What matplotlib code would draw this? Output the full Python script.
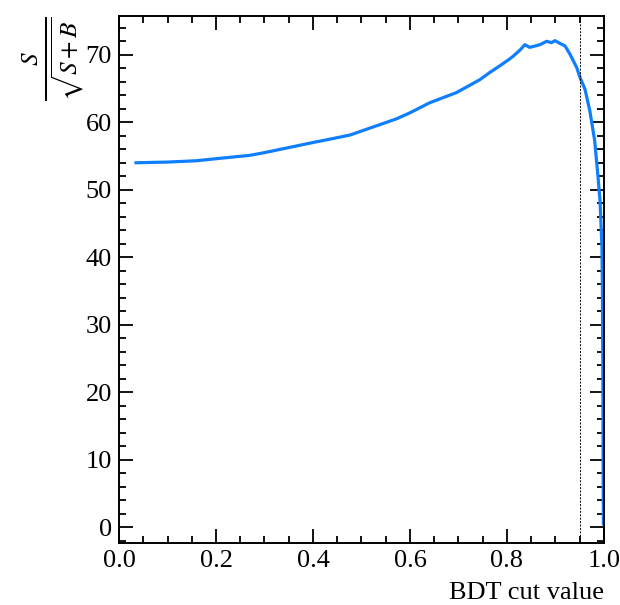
import numpy as np
import matplotlib.pyplot as plt
from matplotlib.ticker import MultipleLocator

# BDT cut scan
bdt_cut = [0.035, 0.10, 0.16, 0.20, 0.27, 0.30, 0.40, 0.435, 0.476, 0.504,
           0.572, 0.60, 0.641, 0.696, 0.744, 0.765, 0.786, 0.806, 0.813,
           0.827, 0.837, 0.847, 0.858, 0.868, 0.882, 0.892, 0.899, 0.909,
           0.920, 0.930, 0.944, 0.951, 0.961, 0.971, 0.981, 0.988, 0.992,
           0.994, 0.996, 0.997, 0.998, 0.9985, 0.999]
significance = [54.0, 54.1, 54.3, 54.6, 55.1, 55.5, 57.0, 57.5, 58.1, 58.8,
                60.5, 61.4, 62.9, 64.4, 66.3, 67.4, 68.4, 69.4, 69.8,
                70.7, 71.5, 71.1, 71.3, 71.5, 72.0, 71.8, 72.1, 71.7,
                71.3, 70.1, 68.1, 66.6, 64.9, 61.7, 57.3, 51.8, 48.4,
                45.0, 41.5, 35.1, 20.0, 8.0, 0.5]
best_cut = 0.95

plt.rcParams['font.family'] = ['Liberation Serif', 'DejaVu Serif']
plt.rcParams['mathtext.fontset'] = 'stix'

fig = plt.figure(figsize=(6.2, 6.05), dpi=100)
ax = fig.add_axes([0.192, 0.102, 0.782, 0.871])

ax.plot(bdt_cut, significance, color='#0f7fff', lw=2.3)
ax.axvline(best_cut, color='black', ls='--', lw=0.7, dashes=(2, 1.5))

ax.set_xlim(0.0, 1.0)
ax.set_ylim(-2.4, 75.7)
ax.xaxis.set_major_locator(MultipleLocator(0.2))
ax.xaxis.set_minor_locator(MultipleLocator(0.05))
ax.yaxis.set_major_locator(MultipleLocator(10))
ax.yaxis.set_minor_locator(MultipleLocator(2))
ax.tick_params(which='both', direction='in', top=True, right=True,
               labelsize=19, width=1.3)
ax.tick_params(which='major', length=10, pad=5)
ax.tick_params(which='minor', length=5)
for s in ax.spines.values():
    s.set_linewidth(1.4)

ax.set_xlabel('BDT cut value', fontsize=19, loc='right', labelpad=7)
ax.set_ylabel(r'$\frac{S}{\sqrt{S+B}}$', fontsize=26, loc='top', labelpad=0)

fig.savefig('out.png', dpi=100)
